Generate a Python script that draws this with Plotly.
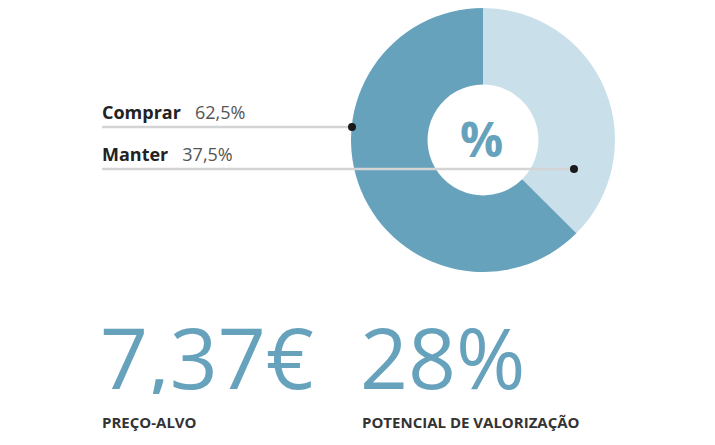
import plotly.graph_objects as go

W, H = 715, 445
OFF = 8  # page body offset

categories = ["Manter", "Comprar"]
values = [37.5, 62.5]
value_labels = ["37,5%", "62,5%"]
colors = ["#c9dfea", "#67a2bd"]

price_target = "7,37€"
upside = "28%"
price_label = "PREÇO-ALVO"
upside_label = "POTENCIAL DE VALORIZAÇÃO"

def px(x):
    return (x - OFF) / W

def py(y):
    return min(1.0, 1 - (y - OFF) / H)

fig = go.Figure()
fig.add_trace(go.Pie(
    labels=categories, values=values, hole=0.42, sort=False,
    direction="clockwise", rotation=0,
    marker=dict(colors=colors, line=dict(width=0)),
    textinfo="none", hoverinfo="label+percent", showlegend=False,
    domain=dict(x=[px(351), px(615)], y=[py(272), py(8)]),
))

line_color = "#d4d4d4"
dot_color = "#1a1a1a"
label_font = "Open Sans"
leaders = {"Comprar": (127, 352), "Manter": (169, 574)}
for cat, lab in zip(categories, value_labels):
    ly, dx = leaders[cat]
    fig.add_shape(type="line", xref="paper", yref="paper",
                  x0=px(102), x1=px(dx), y0=py(ly), y1=py(ly),
                  line=dict(color=line_color, width=2.5))
    fig.add_shape(type="circle", xref="paper", yref="paper",
                  x0=px(dx - 4), x1=px(dx + 4), y0=py(ly - 4), y1=py(ly + 4),
                  fillcolor=dot_color, line=dict(width=0))
    fig.add_annotation(xref="paper", yref="paper", x=px(100), y=py(ly - 15),
                       xanchor="left", yanchor="middle", showarrow=False,
                       text=f"<b>{cat}</b>&nbsp;&nbsp;&nbsp;<span style='color:#555555'>{lab}</span>",
                       font=dict(family=label_font, size=18, color="#222222"))

fig.add_annotation(xref="paper", yref="paper", x=px(482), y=py(139),
                   xanchor="center", yanchor="middle", showarrow=False,
                   text="<b>%</b>", font=dict(family="Open Sans", size=48, color="#67a2bd"))

big_font = dict(family="Open Sans", size=84, color="#67a2bd")
fig.add_annotation(xref="paper", yref="paper", x=px(98), y=py(356),
                   xanchor="left", yanchor="middle", showarrow=False, height=76,
                   text=price_target, font=big_font)
fig.add_annotation(xref="paper", yref="paper", x=px(358), y=py(356),
                   xanchor="left", yanchor="middle", showarrow=False, height=76,
                   text=upside, font=big_font)
small_font = dict(family="Open Sans", size=15, color="#333333")
fig.add_annotation(xref="paper", yref="paper", x=px(100), y=py(422),
                   xanchor="left", yanchor="middle", showarrow=False,
                   text=f"<b>{price_label}</b>", font=small_font)
fig.add_annotation(xref="paper", yref="paper", x=px(360), y=py(422),
                   xanchor="left", yanchor="middle", showarrow=False,
                   text=f"<b>{upside_label}</b>", font=small_font)

fig.update_layout(width=W, height=H, margin=dict(l=0, r=0, t=0, b=0),
                  paper_bgcolor="white", plot_bgcolor="white")
fig.write_html("out.html")
